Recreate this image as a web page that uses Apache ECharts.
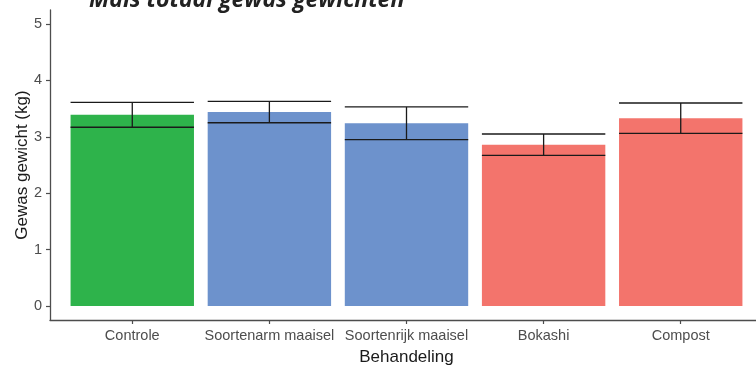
<!DOCTYPE html>
<html>
<head>
<meta charset="utf-8">
<script src="https://cdn.jsdelivr.net/npm/echarts@6/dist/echarts.min.js"></script>
<style>
  html, body { margin: 0; padding: 0; background: #fff; }
  #chart { width: 756px; height: 370px; }
</style>
</head>
<body>
<div id="chart"></div>
<script>
// Crop weight per treatment (kg): mean and standard error
const categories = ['Controle', 'Soortenarm maaisel', 'Soortenrijk maaisel', 'Bokashi', 'Compost'];
const meanWeight = [3.39, 3.44, 3.24, 2.86, 3.33];
const stdError = [0.22, 0.19, 0.29, 0.19, 0.27];
const yTicks = [0, 1, 2, 3, 4, 5];

// Fill per treatment group
const groupColors = ['#2eb34b', '#6d92cc', '#6d92cc', '#f3746c', '#f3746c'];

const BAR_WIDTH = 0.9;
const positions = categories.map((_, i) => i + 1);

const barData = positions.map((x, i) => [x, meanWeight[i]]);
const errData = positions.map((x, i) => [x, meanWeight[i] - stdError[i], meanWeight[i] + stdError[i]]);

const chart = echarts.init(document.getElementById('chart'), null, { renderer: 'canvas' });

const tickFont = { fontFamily: 'Liberation Sans', fontSize: 14.5, color: '#4d4d4d' };
const axisColor = '#4d4d4d';

chart.setOption({
  animation: false,
  backgroundColor: '#ffffff',
  graphic: [{
    type: 'text',
    left: 89,
    top: -11,
    style: {
      text: 'Mais totaal gewas gewichten',
      fontFamily: 'Open Sans',
      fontStyle: 'italic',
      fontWeight: 'bold',
      fontSize: 23,
      fill: '#222222'
    }
  }],
  grid: { left: 50, right: -7, top: 10, bottom: 50, outerBoundsMode: 'none' },
  xAxis: {
    type: 'value',
    min: 0.4,
    max: 5.6,
    name: 'Behandeling',
    nameLocation: 'middle',
    nameGap: 29,
    nameMoveOverlap: false,
    nameTextStyle: { fontFamily: 'Liberation Sans', fontSize: 17, color: '#1a1a1a' },
    splitLine: { show: false },
    axisLine: { show: true, onZero: false, lineStyle: { color: axisColor, width: 1.3 } },
    axisTick: { show: true, length: 4, customValues: positions, lineStyle: { color: axisColor, width: 1.2 } },
    axisLabel: {
      ...tickFont,
      margin: 8,
      customValues: positions,
      formatter: v => categories[Math.round(v) - 1] || ''
    }
  },
  yAxis: {
    type: 'value',
    min: -0.25,
    max: 5.25,
    name: 'Gewas gewicht (kg)',
    nameLocation: 'middle',
    nameGap: 19,
    nameMoveOverlap: false,
    nameTextStyle: { fontFamily: 'Liberation Sans', fontSize: 17, color: '#1a1a1a' },
    splitLine: { show: false },
    axisLine: { show: true, onZero: false, lineStyle: { color: axisColor, width: 1.3 } },
    axisTick: { show: true, length: 4, customValues: yTicks, lineStyle: { color: axisColor, width: 1.2 } },
    axisLabel: { ...tickFont, margin: 8, customValues: yTicks }
  },
  series: [
    {
      type: 'custom',
      data: barData,
      encode: { x: 0, y: 1 },
      renderItem: (params, api) => {
        const x = api.value(0);
        const top = api.coord([x, api.value(1)]);
        const base = api.coord([x, 0]);
        const w = api.size([BAR_WIDTH, 0])[0];
        return {
          type: 'rect',
          shape: { x: top[0] - w / 2, y: top[1], width: w, height: base[1] - top[1] },
          style: { fill: groupColors[params.dataIndex] }
        };
      }
    },
    {
      type: 'custom',
      data: errData,
      encode: { x: 0, y: [1, 2] },
      z: 3,
      renderItem: (params, api) => {
        const x = api.value(0);
        const lo = api.coord([x, api.value(1)]);
        const hi = api.coord([x, api.value(2)]);
        const w = api.size([BAR_WIDTH, 0])[0];
        const style = { stroke: '#1a1a1a', lineWidth: 1.3 };
        return {
          type: 'group',
          children: [
            { type: 'line', shape: { x1: lo[0], y1: lo[1], x2: hi[0], y2: hi[1] }, style },
            { type: 'line', shape: { x1: lo[0] - w / 2, y1: lo[1], x2: lo[0] + w / 2, y2: lo[1] }, style },
            { type: 'line', shape: { x1: hi[0] - w / 2, y1: hi[1], x2: hi[0] + w / 2, y2: hi[1] }, style }
          ]
        };
      }
    }
  ]
});
</script>
</body>
</html>
